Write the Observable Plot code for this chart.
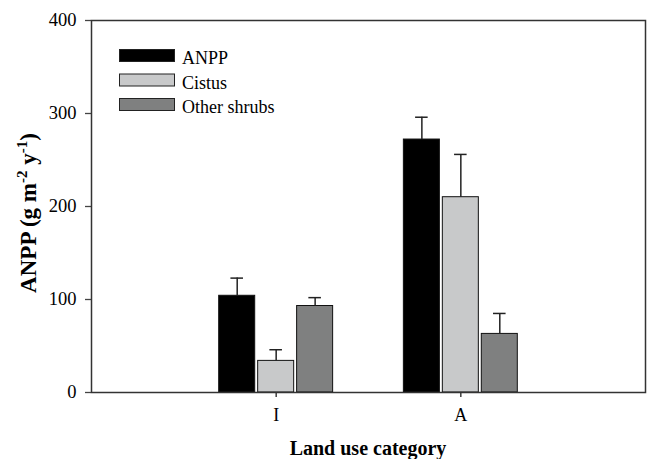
<!DOCTYPE html>
<html>
<head>
<meta charset="utf-8">
<script src="https://cdn.jsdelivr.net/npm/d3@7"></script>
<script src="https://cdn.jsdelivr.net/npm/@observablehq/plot@0.6"></script>
<style>
  html, body { margin: 0; padding: 0; background: #fff; }
  #chart { width: 652px; height: 459px; }
</style>
</head>
<body>
<div id="chart"></div>
<script>
// ---- data ----
const categories = ["I", "A"];
const seriesNames = ["ANPP", "Cistus", "Other shrubs"];
const anppValues = [104, 272];
const cistusValues = [34, 210];
const otherShrubsValues = [93, 63];
const anppErrors = [19, 24];
const cistusErrors = [12, 46];
const otherShrubsErrors = [9, 22];
const yTicks = [0, 100, 200, 300, 400];
const seriesColors = ["#000000", "#c8c9ca", "#7f8080"];

// ---- build table ----
const valuesBySeries = [anppValues, cistusValues, otherShrubsValues];
const errorsBySeries = [anppErrors, cistusErrors, otherShrubsErrors];
const groupStep = 0.211;   // offset of adjacent bars within a group (x units)
const halfBar = 0.0975;    // half bar width (x units)
const halfCap = 0.034;     // half error cap width (x units)
const table = [];
categories.forEach((cat, ci) => {
  seriesNames.forEach((s, si) => {
    const center = ci + 1 + (si - 1) * groupStep;
    table.push({
      category: cat, series: s,
      value: valuesBySeries[si][ci],
      top: valuesBySeries[si][ci] + errorsBySeries[si][ci],
      center, x1: center - halfBar, x2: center + halfBar,
      c1: center - halfCap, c2: center + halfCap
    });
  });
});

const font = "'Liberation Serif', 'Times New Roman', serif";

const chart = Plot.plot({
  width: 652,
  height: 459,
  marginLeft: 91,
  marginRight: 7,
  marginTop: 20,
  marginBottom: 67,
  style: { fontFamily: font, fontSize: "18.5px", color: "#000", background: "#fff", overflow: "visible" },
  x: { domain: [0, 3], axis: null },
  y: { domain: [0, 400], axis: null },
  color: { domain: seriesNames, range: seriesColors },
  marks: [
    Plot.rectY(table, { x1: "x1", x2: "x2", y1: 0, y2: "value", fill: "series", stroke: "#111", strokeWidth: 1 }),
    Plot.ruleX(table, { x: "center", y1: "value", y2: "top", stroke: "#222", strokeWidth: 1.5 }),
    Plot.ruleY(table, { y: "top", x1: "c1", x2: "c2", stroke: "#222", strokeWidth: 1.5 }),
    Plot.axisY({ ticks: yTicks, tickSize: 6, tickPadding: 9, label: null, stroke: "#444", strokeWidth: 1.3, fontSize: 18.5, fontFamily: font, fill: "#000" }),
    Plot.axisX({ ticks: [1, 2], tickFormat: d => categories[d - 1], tickSize: 5, tickPadding: 11, label: null, stroke: "#222", strokeWidth: 1.3, fontSize: 18, fontFamily: font, fill: "#000" }),
    Plot.frame({ stroke: "#333", strokeWidth: 1.5 })
  ]
});

document.getElementById("chart").appendChild(chart);

// ---- titles and legend ----
const svg = d3.select(chart);
svg.append("text")
  .attr("x", 368).attr("y", 455)
  .attr("text-anchor", "middle")
  .attr("font-family", font).attr("font-weight", "bold").attr("font-size", 20)
  .attr("fill", "#000")
  .text("Land use category");

const yl = svg.append("text")
  .attr("transform", "translate(36,213) rotate(-90)")
  .attr("text-anchor", "middle")
  .attr("font-family", font).attr("font-weight", "bold").attr("font-size", 23)
  .attr("fill", "#000");
yl.append("tspan").text("ANPP (g m");
yl.append("tspan").attr("font-size", 15).attr("dy", -9).text("-2");
yl.append("tspan").attr("dy", 9).text(" y");
yl.append("tspan").attr("font-size", 15).attr("dy", -9).text("-1");
yl.append("tspan").attr("dy", 9).text(")");

const legend = svg.append("g").attr("text-anchor", "start");
seriesNames.forEach((s, i) => {
  legend.append("rect")
    .attr("x", 119.5).attr("y", 49.5 + i * 24.5)
    .attr("width", 55).attr("height", 12)
    .attr("fill", seriesColors[i]).attr("stroke", "#222").attr("stroke-width", 1);
  legend.append("text")
    .attr("x", 182).attr("y", 64 + i * 24.5)
    .attr("text-anchor", "start")
    .attr("font-family", font).attr("font-size", 18).attr("fill", "#000")
    .text(s);
});
</script>
</body>
</html>
